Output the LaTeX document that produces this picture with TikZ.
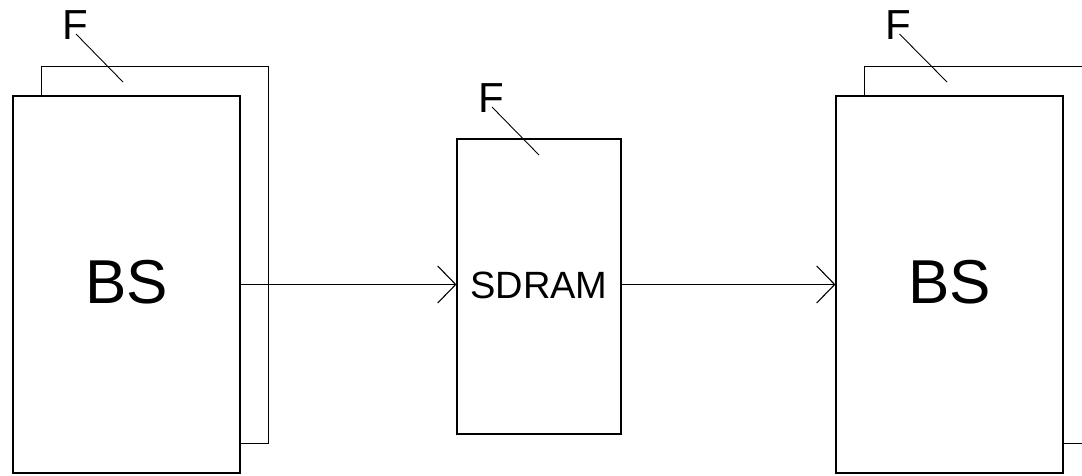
\documentclass[tikz,border=0pt]{standalone}
\usepackage{fontspec}
\setmainfont{Liberation Sans}
\usetikzlibrary{positioning,arrows.meta,calc}

\begin{document}
\begin{tikzpicture}[
    x=1pt, y=-1pt,
    line width=1.1pt,
    >={Straight Barb[length=18pt, width=37pt]},
    frame/.style={draw, fill=white, minimum width=#1, inner sep=0pt},
    bigbox/.style={frame=227pt, minimum height=377pt, font=\fontsize{62}{62}\selectfont},
    midbox/.style={frame=164pt, minimum height=295pt, font=\fontsize{38}{38}\selectfont},
    flabel/.style={inner sep=0pt, font=\fontsize{42}{42}\selectfont}
]
\useasboundingbox (0,0) rectangle (1082,475);
\clip (0,0) rectangle (1082,475);
\fill[white] (0,0) rectangle (1082,475);

% left stack
\node[bigbox] (backL) at (155,255) {};
\node[bigbox] (frontL) at (126.5,284.5) {\raisebox{6pt}{BS}};
\node[flabel] (fL) at (75,25) {F};
\coordinate (fLtip) at (123,82);
\draw[line width=0.9pt] ([shift={(1,-6)}]fL.south) -- (fLtip);

% buffer in the middle
\node[midbox] (mid) at (539,286.5) {\raisebox{2pt}{SDRAM}};
\node[flabel] (fM) at (491,98) {F};
\coordinate (fMtip) at (539,155);
\draw[line width=0.9pt] ([shift={(1,-6)}]fM.south) -- (fMtip);

% right stack
\node[bigbox] (backR) at (978,255) {};
\node[bigbox] (frontR) at (949.5,284.5) {\raisebox{6pt}{BS}};
\node[flabel] (fR) at (898.5,25) {F};
\coordinate (fRtip) at (947,82);
\draw[line width=0.9pt] ([shift={(1,-6)}]fR.south) -- (fRtip);

\draw[->] (frontL.east) -- (frontL.east -| mid.west);
\draw[->] (frontR.west -| mid.east) -- (frontR.west);
\end{tikzpicture}
\end{document}
